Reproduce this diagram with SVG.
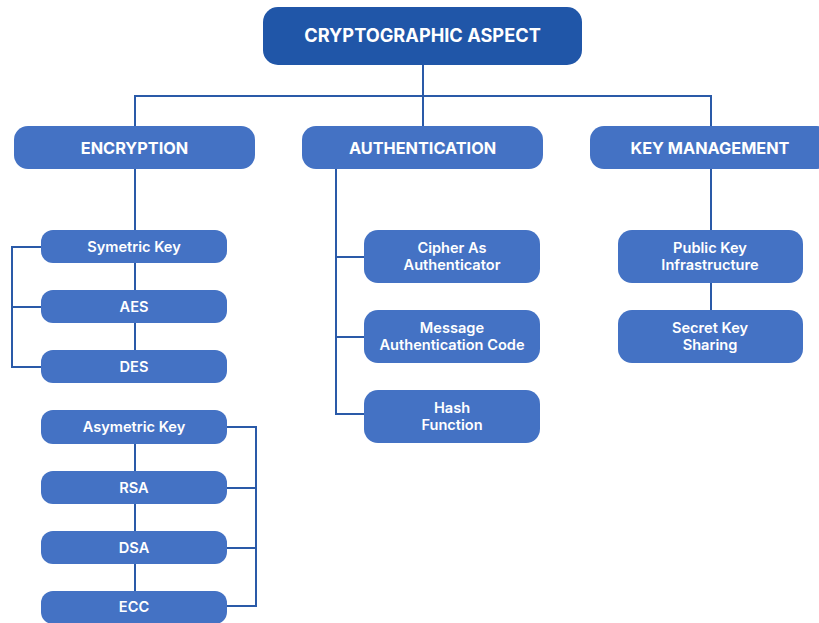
<svg xmlns="http://www.w3.org/2000/svg" width="819" height="623" viewBox="0 0 819 623">
  <style>
    .root { fill: #2056a8; }
    .cat { fill: #4472c4; }
    .leaf { fill: #4472c4; }
    .t { font-family: Inter, "Liberation Sans", sans-serif; fill: #ffffff; text-anchor: middle; }
    .t1 { font-size: 18.2px; font-weight: 700; }
    .t2 { font-size: 16.3px; font-weight: 700; }
    .t3 { font-size: 14.6px; font-weight: 600; }
    .wire { fill: none; stroke: #2a5aa8; stroke-width: 2; }
  </style>
  <rect width="819" height="623" fill="#ffffff"/>

  <g id="connectors" class="wire">
    <!-- root to categories -->
    <path d="M423 65 V96 M135 126 V96 H711 V126 M423 96 V126"/>
    <!-- encryption spine -->
    <path d="M135 169 V230 M135 263 V290 M135 323 V350"/>
    <path d="M41 247 H12 V367 H41 M12 307 H41"/>
    <path d="M135 444 V471 M135 504 V531 M135 564 V591"/>
    <path d="M227 427 H256 V606 H227 M227 488 H256 M227 548 H256"/>
    <!-- authentication -->
    <path d="M336 169 V414 H364 M336 257 H364 M336 337 H364"/>
    <!-- key management -->
    <path d="M711 169 V230 M711 283 V310"/>
  </g>

  <g id="cryptographic-aspect">
    <rect class="root" x="263" y="7" width="319" height="58" rx="15"/>
    <text class="t t1" x="422.5" y="42">CRYPTOGRAPHIC ASPECT</text>
  </g>

  <g id="encryption">
    <rect class="cat" x="14" y="126" width="241" height="43" rx="14"/>
    <text class="t t2" x="134.5" y="153.5">ENCRYPTION</text>
  </g>
  <g id="authentication">
    <rect class="cat" x="302" y="126" width="241" height="43" rx="14"/>
    <text class="t t2" x="422.5" y="153.5">AUTHENTICATION</text>
  </g>
  <g id="key-management">
    <rect class="cat" x="590" y="126" width="241" height="43" rx="14"/>
    <text class="t t2" x="710" y="153.5">KEY MANAGEMENT</text>
  </g>

  <g id="symetric-key">
    <rect class="leaf" x="41" y="230" width="186" height="33" rx="12"/>
    <text class="t t3" x="134" y="251.5">Symetric Key</text>
  </g>
  <g id="aes">
    <rect class="leaf" x="41" y="290" width="186" height="33" rx="12"/>
    <text class="t t3" x="134" y="311.5">AES</text>
  </g>
  <g id="des">
    <rect class="leaf" x="41" y="350" width="186" height="33" rx="12"/>
    <text class="t t3" x="134" y="371.5">DES</text>
  </g>
  <g id="asymetric-key">
    <rect class="leaf" x="41" y="410" width="186" height="34" rx="12"/>
    <text class="t t3" x="134" y="432">Asymetric Key</text>
  </g>
  <g id="rsa">
    <rect class="leaf" x="41" y="471" width="186" height="33" rx="12"/>
    <text class="t t3" x="134" y="492.5">RSA</text>
  </g>
  <g id="dsa">
    <rect class="leaf" x="41" y="531" width="186" height="33" rx="12"/>
    <text class="t t3" x="134" y="552.5">DSA</text>
  </g>
  <g id="ecc">
    <rect class="leaf" x="41" y="591" width="186" height="33" rx="12"/>
    <text class="t t3" x="134" y="612">ECC</text>
  </g>

  <g id="cipher-as-authenticator">
    <rect class="leaf" x="364" y="230" width="176" height="53" rx="14"/>
    <text class="t t3" x="452" y="253">Cipher As</text>
    <text class="t t3" x="452" y="270">Authenticator</text>
  </g>
  <g id="message-authentication-code">
    <rect class="leaf" x="364" y="310" width="176" height="53" rx="14"/>
    <text class="t t3" x="452" y="333">Message</text>
    <text class="t t3" x="452" y="350">Authentication Code</text>
  </g>
  <g id="hash-function">
    <rect class="leaf" x="364" y="390" width="176" height="53" rx="14"/>
    <text class="t t3" x="452" y="413">Hash</text>
    <text class="t t3" x="452" y="430">Function</text>
  </g>

  <g id="public-key-infrastructure">
    <rect class="leaf" x="618" y="230" width="185" height="53" rx="14"/>
    <text class="t t3" x="710" y="253">Public Key</text>
    <text class="t t3" x="710" y="270">Infrastructure</text>
  </g>
  <g id="secret-key-sharing">
    <rect class="leaf" x="618" y="310" width="185" height="53" rx="14"/>
    <text class="t t3" x="710" y="333">Secret Key</text>
    <text class="t t3" x="710" y="350">Sharing</text>
  </g>
</svg>
